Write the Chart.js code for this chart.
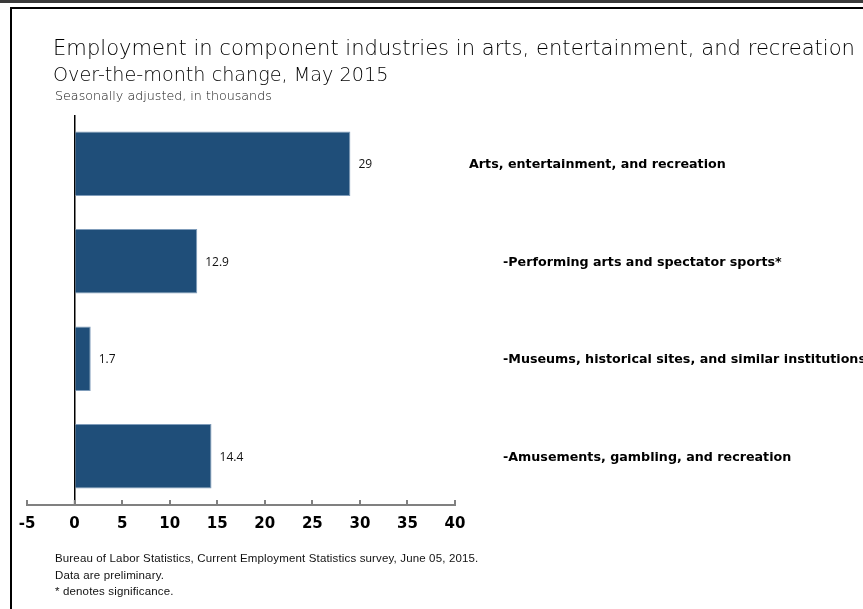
<!DOCTYPE html>
<html>
<head>
<meta charset="utf-8">
<script src="https://cdn.jsdelivr.net/npm/chart.js@4.4.0/dist/chart.umd.min.js"></script>
<style>
  body { margin: 0; background: #fff; width: 863px; height: 609px; overflow: hidden; position: relative; }
  #topband { position: absolute; left: 0; top: 0; width: 863px; height: 3px; background: #3a3a3a; }
  #frame { position: absolute; left: 10px; top: 7px; width: 860px; height: 610px; border-top: 2px solid #000; border-left: 2px solid #000; }
  #wrap { position: absolute; left: 0; top: 0; width: 863px; height: 609px; }
  .txt { position: absolute; white-space: nowrap; color: #000; font-family: "DejaVu Sans", sans-serif; font-weight: 200; }
  #title { left: 53px; top: 35px; font-size: 21.1px; }
  #sub { left: 53px; top: 63px; font-size: 19.2px; }
  #sub2 { left: 55px; top: 88px; font-size: 12.7px; color: #111; }
  #foot { left: 55px; top: 550px; font-family: "Liberation Sans", Arial, sans-serif; font-weight: normal; font-size: 11.5px; letter-spacing: 0.15px; line-height: 16.5px; color: #111; }
</style>
</head>
<body>
<div id="topband"></div>
<div id="frame"></div>
<div id="wrap"><canvas id="chart" width="863" height="609"></canvas></div>
<div class="txt" id="title">Employment in component industries in arts, entertainment, and recreation</div>
<div class="txt" id="sub">Over-the-month change, May 2015</div>
<div class="txt" id="sub2">Seasonally adjusted, in thousands</div>
<div class="txt" id="foot">Bureau of Labor Statistics, Current Employment Statistics survey, June 05, 2015.<br>Data are preliminary.<br>* denotes significance.</div>
<script>
// Over-the-month change, in thousands
const categories = [
    'Arts, entertainment, and recreation',
    '-Performing arts and spectator sports*',
    '-Museums, historical sites, and similar institutions',
    '-Amusements, gambling, and recreation'
];
const changes = [29, 12.9, 1.7, 14.4];
const axisMin = -5;
const axisMax = 40;
const axisStep = 5;

// Draw value labels beside bars and category names on the right
const barLabels = {
    id: 'barLabels',
    afterDatasetsDraw(chart) {
        const ctx = chart.ctx;
        const meta = chart.getDatasetMeta(0);
        const area = chart.chartArea;
        ctx.save();
        ctx.textBaseline = 'middle';
        meta.data.forEach((bar, i) => {
            ctx.fillStyle = '#111';
            ctx.font = '12px "Open Sans", "Liberation Sans", sans-serif';
            ctx.textAlign = 'left';
            ctx.fillText(String(changes[i]), bar.x + 8, bar.y + 1);

            const name = categories[i];
            const indent = name.startsWith('-') ? 48 : 14;
            ctx.fillStyle = '#000';
            ctx.font = 'bold 12.7px "DejaVu Sans", Verdana, sans-serif';
            ctx.fillText(name, area.right + indent, bar.y + 1);
        });
        ctx.restore();
    }
};

const ctx = document.getElementById('chart').getContext('2d');
window.employmentChart = new Chart(ctx, {
    type: 'bar',
    data: {
        labels: categories,
        datasets: [{
            data: changes,
            backgroundColor: '#1f4e79',
            borderColor: '#7f9cba',
            borderWidth: 1,
            borderSkipped: 'left',
            categoryPercentage: 1,
            barPercentage: 0.66
        }]
    },
    options: {
        indexAxis: 'y',
        responsive: false,
        animation: false,
        layout: {
            padding: { left: 27, right: 408, top: 115, bottom: 61 }
        },
        plugins: {
            legend: { display: false },
            tooltip: { enabled: false }
        },
        scales: {
            x: {
                min: axisMin,
                max: axisMax,
                ticks: {
                    stepSize: axisStep,
                    color: '#000',
                    padding: 15,
                    font: { family: '"DejaVu Sans", Verdana, sans-serif', size: 15, weight: 'bold' }
                },
                grid: {
                    drawOnChartArea: true,
                    drawTicks: true,
                    tickLength: -5,
                    tickColor: '#808080',
                    tickWidth: 2,
                    color: c => (c.tick && c.tick.value === 0) ? '#000' : 'rgba(0,0,0,0)',
                    lineWidth: c => (c.tick && c.tick.value === 0) ? 1.5 : 0
                },
                border: { display: true, color: '#808080', width: 2 }
            },
            y: {
                display: false
            }
        }
    },
    plugins: [barLabels]
});
</script>
</body>
</html>
